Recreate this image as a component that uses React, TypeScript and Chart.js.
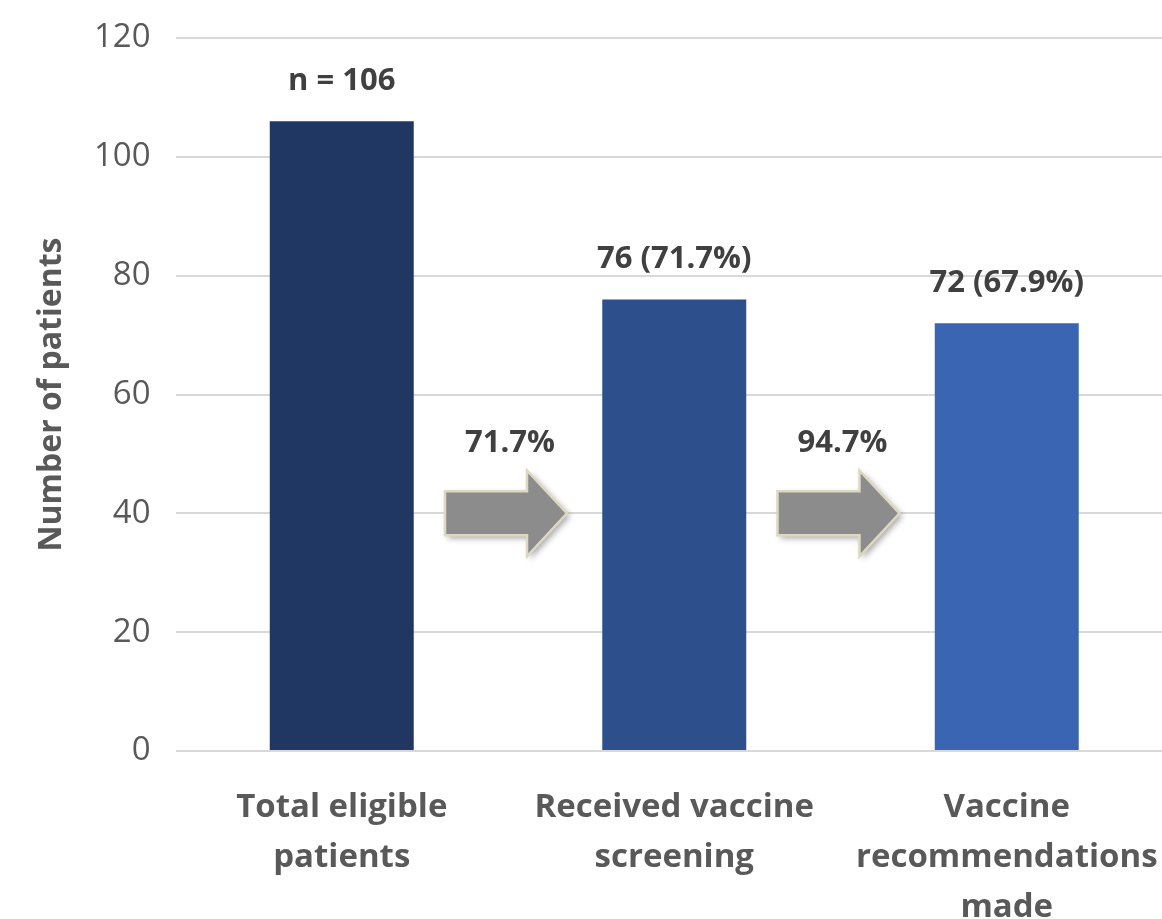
import React, { useEffect, useRef } from "react";
import { Chart, registerables } from "chart.js";

Chart.register(...registerables);

const categories: string[][] = [
  ["Total eligible", "patients"],
  ["Received vaccine", "screening"],
  ["Vaccine", "recommendations", "made"],
];
const patients: number[] = [106, 76, 72];
const barLabels: string[] = ["n = 106", "76 (71.7%)", "72 (67.9%)"];
const stepPercents: string[] = ["71.7%", "94.7%"];
const arrowLevel = 40;
const barColors: string[] = ["#213763", "#2D4F8B", "#3A65B2"];
const yMin = 0;
const yMax = 120;
const yStep = 20;

const FONT = "'Open Sans', 'DejaVu Sans', sans-serif";

const overlayPlugin = {
  id: "overlay",
  afterDatasetsDraw(chart: any) {
    const ctx = chart.ctx as CanvasRenderingContext2D;
    const meta = chart.getDatasetMeta(0);
    const yScale = chart.scales.y;
    // data labels above bars
    ctx.save();
    ctx.fillStyle = "#404040";
    ctx.font = `bold 31px ${FONT}`;
    ctx.textAlign = "center";
    ctx.textBaseline = "alphabetic";
    meta.data.forEach((bar: any, i: number) => {
      ctx.fillText(barLabels[i], bar.x, bar.y - 31);
    });
    ctx.restore();

    // arrows between bars
    const tipY = yScale.getPixelForValue(arrowLevel);
    for (let i = 0; i < stepPercents.length; i++) {
      const a = meta.data[i];
      const b = meta.data[i + 1];
      if (!a || !b) continue;
      const mid = (a.x + b.x) / 2 - 1;
      const left = mid - 62;
      const neck = mid + 20;
      const tip = mid + 60;
      const bh = 22;
      const hh = 43;
      ctx.save();
      ctx.beginPath();
      ctx.moveTo(left, tipY - bh);
      ctx.lineTo(neck, tipY - bh);
      ctx.lineTo(neck, tipY - hh);
      ctx.lineTo(tip, tipY);
      ctx.lineTo(neck, tipY + hh);
      ctx.lineTo(neck, tipY + bh);
      ctx.lineTo(left, tipY + bh);
      ctx.closePath();
      ctx.shadowColor = "rgba(0,0,0,0.35)";
      ctx.shadowBlur = 6;
      ctx.shadowOffsetX = 3;
      ctx.shadowOffsetY = 3;
      ctx.fillStyle = "#8C8C8C";
      ctx.fill();
      ctx.shadowColor = "transparent";
      ctx.lineWidth = 2.5;
      ctx.strokeStyle = "#DDD8C2";
      ctx.lineJoin = "miter";
      ctx.stroke();
      ctx.restore();

      ctx.save();
      ctx.fillStyle = "#404040";
      ctx.font = `bold 31px ${FONT}`;
      ctx.textAlign = "center";
      ctx.textBaseline = "middle";
      ctx.fillText(stepPercents[i], mid + 3, tipY - 70);
      ctx.restore();
    }
  },
};

export default function App() {
  const ref = useRef<HTMLCanvasElement | null>(null);

  useEffect(() => {
    if (!ref.current) return;
    const chart = new Chart(ref.current, {
      type: "bar",
      data: {
        labels: categories,
        datasets: [
          {
            data: patients,
            backgroundColor: barColors,
            borderWidth: 0,
            barPercentage: 1,
            categoryPercentage: 0.433,
          },
        ],
      },
      options: {
        responsive: false,
        animation: false,
        layout: { padding: { top: 38, right: 27, left: 0, bottom: 0 } },
        plugins: {
          legend: { display: false },
          tooltip: { enabled: false },
        },
        scales: {
          x: {
            grid: { display: false },
            border: { display: false },
            ticks: {
              color: "#595959",
              padding: 24,
              maxRotation: 0,
              autoSkip: false,
              font: { family: FONT, size: 33, weight: "bold", lineHeight: "50px" } as any,
            },
            afterFit(scale: any) {
              scale.height = 168;
            },
          },
          y: {
            min: yMin,
            max: yMax,
            grid: { color: "#D9D9D9", lineWidth: 2, drawTicks: false },
            border: { display: false },
            ticks: {
              stepSize: yStep,
              color: "#595959",
              padding: 25,
              font: { family: FONT, size: 33 },
            },
            title: {
              display: true,
              text: "Number of patients",
              color: "#595959",
              padding: { top: 33, bottom: 0 },
              font: { family: FONT, size: 32, weight: "bold" },
            },
            afterFit(scale: any) {
              scale.width = 175.5;
              scale.paddingTop = 0;
              scale.paddingBottom = 0;
            },
          },
        },
      },
      plugins: [overlayPlugin],
    });
    return () => chart.destroy();
  }, []);

  return (
    <div
      style={{
        position: "absolute",
        left: 0,
        top: 0,
        width: 1162,
        height: 919,
        overflow: "hidden",
        background: "#ffffff",
      }}
    >
      <canvas ref={ref} width={1200} height={919} style={{ width: 1200, height: 919, display: "block" }} />
    </div>
  );
}
